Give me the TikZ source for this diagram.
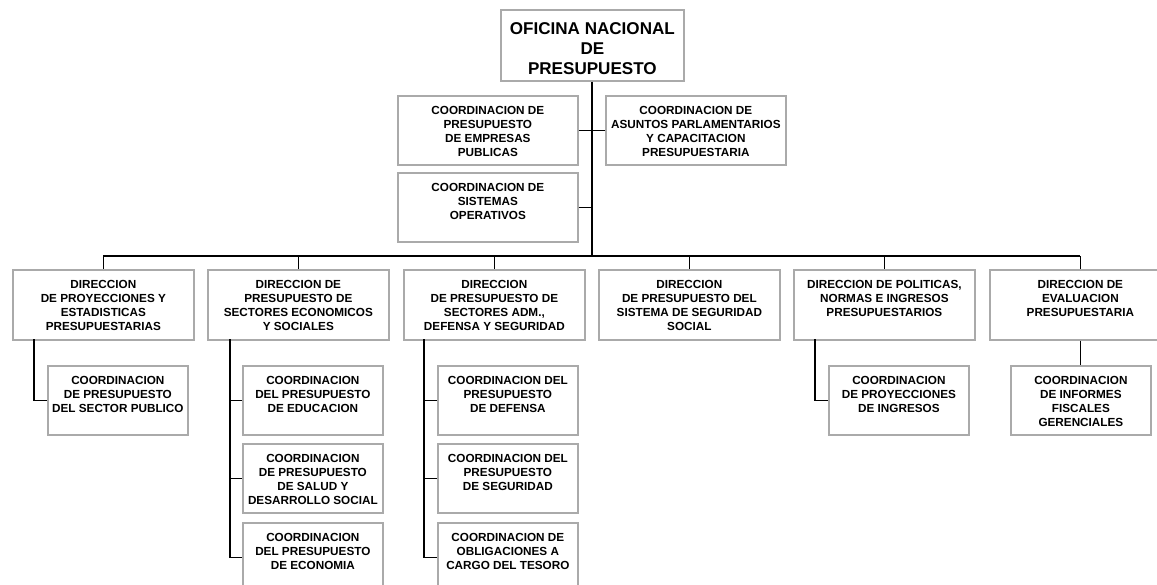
\documentclass[tikz,border=0pt]{standalone}
\usepackage{fontspec}
\setmainfont{Liberation Sans}
\usetikzlibrary{positioning}
\definecolor{borde}{RGB}{170,170,170}

\tikzset{
  caja/.style={draw=borde, line width=1.3pt, anchor=north west, inner sep=0pt, fill=white},
  dir/.style={caja, minimum width=135.75pt, minimum height=52.5pt},
  coord/.style={caja, minimum width=105pt, minimum height=51.75pt},
  staff/.style={caja, minimum width=135pt, minimum height=51.75pt},
  txt/.style={anchor=north, align=center, inner sep=0pt, yshift=-8.6pt,
    font=\fontsize{8.8}{10.5}\selectfont\bfseries},
  enlace/.style={draw=black, line width=0.9pt}
}

\begin{document}
\begin{tikzpicture}[x=0.75pt,y=-0.75pt]
\useasboundingbox[fill=white] (0,0) rectangle (1157,585);

% jefatura
\node[caja, minimum width=137.25pt, minimum height=53.25pt,
  label={[txt, yshift=-1.6pt, font=\fontsize{12.8}{15}\selectfont\bfseries]north:{OFICINA NACIONAL\\DE\\PRESUPUESTO}}] (onp) at (500,9) {};

% staff
\node[staff, label={[txt]north:{COORDINACION DE\\PRESUPUESTO\\DE EMPRESAS\\PUBLICAS}}] (emp) at (397,95) {};
\node[staff, label={[txt]north:{COORDINACION DE\\ASUNTOS PARLAMENTARIOS\\Y CAPACITACION\\PRESUPUESTARIA}}] (asu) at (605,95) {};
\node[staff, label={[txt]north:{COORDINACION DE\\SISTEMAS\\OPERATIVOS}}] (sis) at (397,172) {};

\coordinate (eje) at (592,256);
\draw[enlace] (onp.south -| eje) -- (eje);
\draw[enlace] (emp.east) -- (emp.east -| eje);
\draw[enlace] (asu.west) -- (asu.west -| eje);
\draw[enlace] (sis.east) -- (sis.east -| eje);

% direcciones
\node[dir, label={[txt]north:{DIRECCION\\DE PROYECCIONES Y\\ESTADISTICAS\\PRESUPUESTARIAS}}] (d1) at (12,269) {};
\node[dir, label={[txt]north:{DIRECCION DE\\PRESUPUESTO DE\\SECTORES ECONOMICOS\\Y SOCIALES}}] (d2) at (207,269) {};
\node[dir, label={[txt]north:{DIRECCION\\DE PRESUPUESTO DE\\SECTORES ADM.,\\DEFENSA Y SEGURIDAD}}] (d3) at (403,269) {};
\node[dir, label={[txt]north:{DIRECCION\\DE PRESUPUESTO DEL\\SISTEMA DE SEGURIDAD\\SOCIAL}}] (d4) at (598,269) {};
\node[dir, label={[txt]north:{DIRECCION DE POLITICAS,\\NORMAS E INGRESOS\\PRESUPUESTARIOS}}] (d5) at (793,269) {};
\node[dir, label={[txt]north:{DIRECCION DE\\EVALUACION\\PRESUPUESTARIA}}] (d6) at (989,269) {};

\draw[enlace] (d1.north |- eje) -- (d6.north |- eje);
\foreach \d in {d1,d2,d3,d4,d5,d6}
  \draw[enlace] (\d.north |- eje) -- (\d.north);

% coordinaciones
\node[coord, label={[txt]north:{COORDINACION\\DE PRESUPUESTO\\DEL SECTOR PUBLICO}}] (c1) at (47,365) {};

\node[coord, label={[txt]north:{COORDINACION\\DEL PRESUPUESTO\\DE EDUCACION}}] (c2a) at (242,365) {};
\node[coord, label={[txt]north:{COORDINACION\\DE PRESUPUESTO\\DE SALUD Y\\DESARROLLO SOCIAL}}] (c2b) at (242,443) {};
\node[coord, label={[txt]north:{COORDINACION\\DEL PRESUPUESTO\\DE ECONOMIA}}] (c2c) at (242,522) {};

\node[coord, label={[txt]north:{COORDINACION DEL\\PRESUPUESTO\\DE DEFENSA}}] (c3a) at (437,365) {};
\node[coord, label={[txt]north:{COORDINACION DEL\\PRESUPUESTO\\DE SEGURIDAD}}] (c3b) at (437,443) {};
\node[coord, label={[txt]north:{COORDINACION DE\\OBLIGACIONES A\\CARGO DEL TESORO}}] (c3c) at (437,522) {};

\node[coord, label={[txt]north:{COORDINACION\\DE PROYECCIONES\\DE INGRESOS}}] (c5) at (828,365) {};
\node[coord, label={[txt]north:{COORDINACION\\DE INFORMES\\FISCALES\\GERENCIALES}}] (c6) at (1010,365) {};

\coordinate (b1) at (34,339);
\coordinate (b2) at (230,339);
\coordinate (b3) at (424,339);
\coordinate (b5) at (815,339);

\draw[enlace] (b1) |- (c1.west);
\draw[enlace] (b2) |- (c2c.west);
\draw[enlace] (c2a.west) -- (c2a.west -| b2);
\draw[enlace] (c2b.west) -- (c2b.west -| b2);
\draw[enlace] (b3) |- (c3c.west);
\draw[enlace] (c3a.west) -- (c3a.west -| b3);
\draw[enlace] (c3b.west) -- (c3b.west -| b3);
\draw[enlace] (b5) |- (c5.west);
\draw[enlace] (d6.south -| c6.north) -- (c6.north);
\end{tikzpicture}
\end{document}
